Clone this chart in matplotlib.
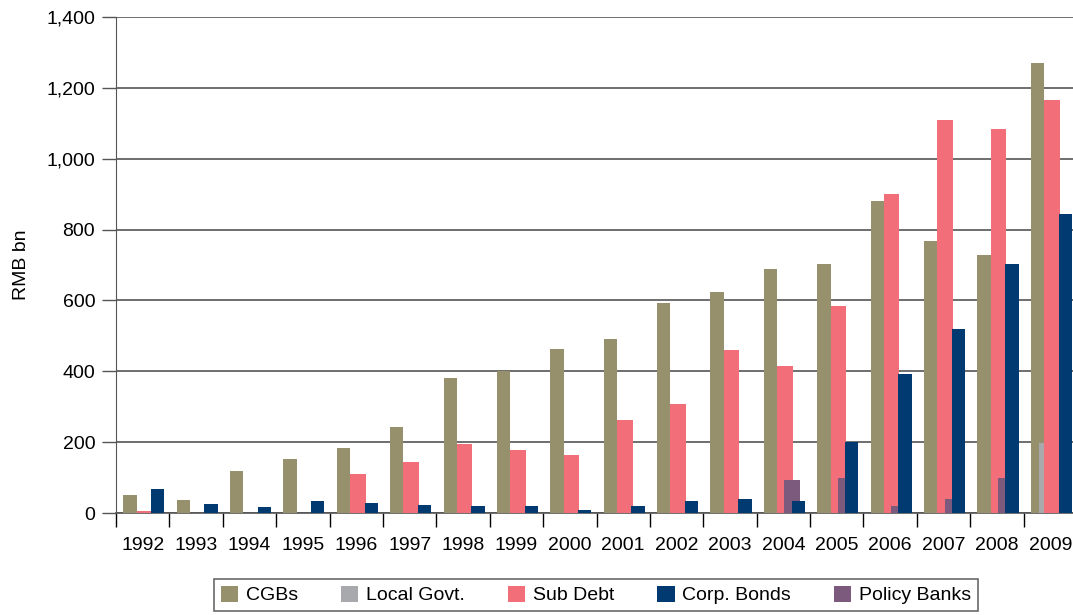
import matplotlib.pyplot as plt
import numpy as np
from matplotlib.ticker import FuncFormatter

plt.rcParams['font.family'] = ['Liberation Sans', 'DejaVu Sans']

years = [str(y) for y in range(1992, 2010)]
cgbs = [50, 37, 118, 153, 183, 243, 380, 400, 462, 490, 592, 625, 690, 702, 882, 768, 728, 1270]
local_govt = [0, 0, 0, 0, 0, 0, 0, 0, 0, 0, 0, 0, 0, 0, 0, 0, 0, 198]
sub_debt = [6, 0, 0, 0, 110, 145, 195, 178, 163, 262, 307, 460, 415, 583, 900, 1110, 1085, 1165]
corp_bonds = [68, 25, 17, 34, 28, 23, 21, 20, 9, 20, 34, 40, 34, 200, 393, 518, 702, 843]
policy_banks = [0, 0, 0, 0, 0, 0, 0, 0, 0, 0, 0, 0, 93, 99, 20, 40, 100, 0]

# name, values, colour, offset within group, width
series = [
    ("CGBs", cgbs, "#96916c", -0.24, 0.25),
    ("Local Govt.", local_govt, "#a8a9ad", -0.07, 0.30),
    ("Sub Debt", sub_debt, "#f26e79", 0.03, 0.29),
    ("Policy Banks", policy_banks, "#7b5a7e", 0.17, 0.30),
    ("Corp. Bonds", corp_bonds, "#003a70", 0.28, 0.25),
]

fig = plt.figure(figsize=(10.73, 6.15), dpi=100)
ax = fig.add_axes([116 / 1073, 102 / 615, 961 / 1073, 496 / 615])

x = np.arange(len(years))
handles = {}
for z, (name, vals, col, off, w) in enumerate(series):
    handles[name] = ax.bar(x + off, vals, width=w, color=col, zorder=3 + z, label=name)

ax.set_xlim(-0.5, len(years) - 0.5)
ax.set_ylim(0, 1400)
ax.set_yticks(np.arange(0, 1401, 200))
ax.yaxis.set_major_formatter(FuncFormatter(lambda v, _: f"{int(v):,}"))
ax.grid(axis='y', color='#555555', linewidth=1.2, zorder=0)
ax.set_axisbelow(True)

# year labels centred, tick marks on group boundaries
ax.set_xticks(x)
ax.set_xticklabels(years)
ax.tick_params(axis='x', which='major', length=0, pad=17, labelsize=14)
ax.set_xticks(np.arange(-0.5, len(years), 1.0), minor=True)
ax.tick_params(axis='x', which='minor', length=10, width=1, color='black', direction='out')
ax.tick_params(axis='y', length=10, width=1, color='#555555', labelsize=14, pad=5)

for s in ['top', 'right']:
    ax.spines[s].set_visible(False)
ax.spines['left'].set_color('#555555')
ax.spines['bottom'].set_color('#555555')
ax.spines['bottom'].set_linewidth(1.2)

ax.set_ylabel("RMB bn", fontsize=14, labelpad=12)

order = ["CGBs", "Local Govt.", "Sub Debt", "Corp. Bonds", "Policy Banks"]
leg = fig.legend([handles[n] for n in order], order, loc='center', ncol=5,
                 bbox_to_anchor=(596 / 1073, 1 - 595 / 615), fontsize=14,
                 frameon=True, fancybox=False, edgecolor='#444444',
                 handlelength=0.9, handleheight=0.9, columnspacing=2.2,
                 handletextpad=0.4, borderpad=0.35)
leg.get_frame().set_linewidth(1.2)

fig.savefig("out.png", dpi=100)
